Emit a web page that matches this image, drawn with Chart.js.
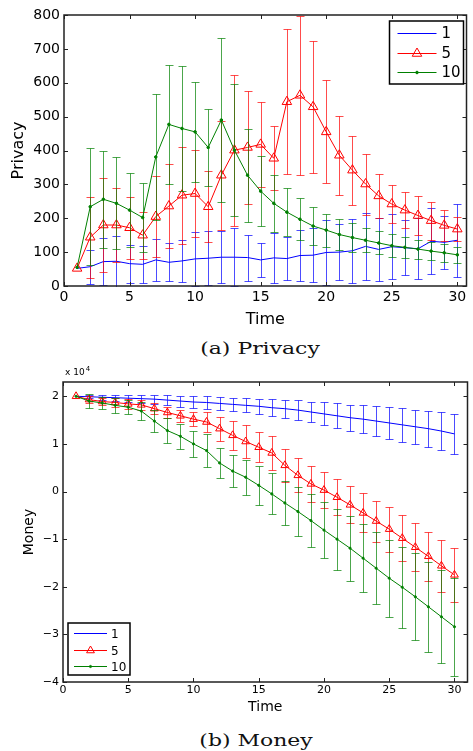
<!DOCTYPE html>
<html>
<head>
<meta charset="utf-8">
<script src="https://cdn.jsdelivr.net/npm/chart.js@4.4.1/dist/chart.umd.min.js"></script>
<style>
  body { margin: 0; background: #fff; width: 473px; height: 751px; position: relative; overflow: hidden; }
  #privacy { position: absolute; left: 0; top: 0; }
  #money { position: absolute; left: 0; top: 360px; }
  .caption { position: absolute; font-family: "DejaVu Serif"; font-size: 17px; color: #111;
             white-space: nowrap; transform: translate(-50%, -50%) scaleX(1.29); }
</style>
</head>
<body>
<canvas id="privacy" width="473" height="335"></canvas>
<div class="caption" style="left:260px; top:348px;">(a) Privacy</div>
<canvas id="money" width="473" height="360"></canvas>
<div class="caption" style="left:256px; top:740px;">(b) Money</div>

<script>
var times = [1, 2, 3, 4, 5, 6, 7, 8, 9, 10, 11, 12, 13, 14, 15, 16, 17, 18, 19, 20, 21, 22, 23, 24, 25, 26, 27, 28, 29, 30];
var seriesNames = ['1', '5', '10'];
var timeTicks = [0, 5, 10, 15, 20, 25, 30];
var privacyTicks = [0, 100, 200, 300, 400, 500, 600, 700, 800];
var moneyTicks = [-40000, -30000, -20000, -10000, 0, 10000, 20000];

// (a) privacy, mean and half error
var privacy1 = [52, 57, 72, 73, 66, 64, 77, 70, 74, 80, 82, 85, 85, 84, 77, 83, 81, 90, 91, 99, 100, 104, 117, 108, 116, 113, 110, 132, 129, 135];
var privacy1Err = [0, 50, 70, 75, 56, 55, 63, 56, 63, 80, 80, 76, 85, 68, 50, 73, 63, 74, 80, 95, 82, 95, 98, 93, 96, 82, 90, 97, 78, 108];
var privacy5 = [52, 144, 180, 180, 172, 150, 205, 236, 268, 273, 234, 327, 401, 409, 418, 377, 544, 563, 529, 455, 386, 342, 301, 266, 242, 224, 208, 193, 179, 168];
var privacy5Err = [0, 119, 139, 108, 92, 69, 119, 123, 143, 129, 105, 161, 223, 168, 125, 94, 214, 234, 194, 152, 117, 102, 90, 66, 57, 53, 57, 56, 45, 36];
var privacy10 = [55, 234, 256, 244, 224, 202, 381, 477, 465, 455, 409, 490, 401, 327, 280, 244, 218, 197, 177, 165, 152, 143, 135, 127, 119, 114, 109, 103, 98, 92];
var privacy10Err = [0, 172, 144, 136, 110, 101, 186, 176, 184, 148, 114, 242, 195, 137, 103, 85, 70, 62, 57, 49, 45, 42, 36, 34, 34, 30, 28, 26, 27, 24];

// (b) money, mean and half error
var money1 = [20000, 19900, 19800, 19700, 19600, 19500, 19400, 19200, 19000, 18800, 18700, 18500, 18300, 18100, 17900, 17600, 17400, 17100, 16700, 16300, 15900, 15500, 15200, 14800, 14400, 14000, 13600, 13200, 12700, 12100];
var money1Err = [0, 350, 500, 600, 750, 850, 950, 1050, 1150, 1200, 1300, 1350, 1400, 1500, 1600, 1750, 1900, 2050, 2200, 2400, 2600, 2700, 2900, 3100, 3300, 3500, 3600, 3800, 4000, 4200];
var money5 = [20000, 19300, 18900, 18700, 18400, 18200, 17400, 16600, 15900, 15200, 14600, 13200, 11800, 10500, 9300, 8100, 5500, 3400, 1600, 300, -1200, -2800, -4500, -6200, -7900, -9800, -11700, -13600, -15600, -17500];
var money5Err = [0, 700, 800, 900, 1000, 1000, 1100, 1200, 1300, 1400, 2000, 2500, 3000, 3400, 3100, 3500, 3400, 3600, 3700, 3750, 3800, 3900, 4100, 4300, 4700, 4800, 5000, 5200, 5500, 5600];
var money10 = [20000, 19000, 18600, 18100, 17700, 16900, 14800, 12800, 11600, 10000, 8600, 6000, 4300, 3000, 1300, -500, -2400, -4200, -6100, -8100, -10000, -11900, -14000, -16100, -18200, -20100, -22100, -24200, -26300, -28400];
var money10Err = [0, 1400, 1300, 1600, 1500, 1800, 2400, 2600, 2600, 2800, 3500, 3200, 3400, 3700, 4100, 4300, 4700, 5200, 5600, 5900, 6400, 6800, 7200, 7600, 8100, 8500, 9100, 9500, 9800, 10300];

Chart.defaults.font.family = 'DejaVu Sans';
Chart.defaults.color = '#000';

function series(label, mean, err, color, barColor, style, radius, order) {
    return {
        label: label,
        data: times.map(function (t, i) { return {x: t, y: mean[i]}; }),
        errors: err,
        barColor: barColor,
        borderColor: color,
        borderWidth: 1,
        pointStyle: style,
        pointRadius: radius,
        pointBorderColor: color,
        pointBackgroundColor: style == 'circle' ? color : 'rgba(0,0,0,0)',
        pointBorderWidth: 1,
        tension: 0,
        order: order
    };
}

function fixedTicks(values) {
    return function (s) { s.ticks = values.map(function (v) { return {value: v}; }); };
}

// error bars, drawn under each line
var errorBars = {
    id: 'errorBars',
    beforeDatasetDraw: function (chart, args, opts) {
        var ds = chart.data.datasets[args.index];
        var y = chart.scales.y, a = chart.chartArea, ctx = chart.ctx;
        ctx.save();
        ctx.beginPath();
        ctx.rect(a.left, a.top - 1, a.right - a.left, a.bottom - a.top + 2);
        ctx.clip();
        ctx.strokeStyle = ds.barColor;
        ctx.lineWidth = 1;
        args.meta.data.forEach(function (pt, i) {
            var e = ds.errors[i];
            if (!e) return;
            var m = ds.data[i].y;
            var y1 = Math.round(y.getPixelForValue(m + e)) + 0.5;
            var y2 = Math.round(y.getPixelForValue(m - e)) + 0.5;
            var x = Math.round(pt.x) + 0.5;
            ctx.beginPath();
            ctx.moveTo(x, y1); ctx.lineTo(x, y2);
            ctx.moveTo(x - opts.cap, y1); ctx.lineTo(x + opts.cap, y1);
            ctx.moveTo(x - opts.cap, y2); ctx.lineTo(x + opts.cap, y2);
            ctx.stroke();
        });
        ctx.restore();
    }
};

// matlab style box, inner ticks, legend box
var matBox = {
    id: 'matBox',
    afterDraw: function (chart, args, o) {
        var ctx = chart.ctx, a = chart.chartArea;
        var xs = chart.scales.x, ys = chart.scales.y;
        ctx.save();
        ctx.strokeStyle = '#222';
        ctx.lineWidth = 1;
        ctx.beginPath();
        xs.ticks.forEach(function (t) {
            var px = Math.round(xs.getPixelForValue(t.value)) + 0.5;
            ctx.moveTo(px, a.bottom); ctx.lineTo(px, a.bottom - 4);
            ctx.moveTo(px, a.top); ctx.lineTo(px, a.top + 4);
        });
        ys.ticks.forEach(function (t) {
            var py = Math.round(ys.getPixelForValue(t.value)) + 0.5;
            ctx.moveTo(a.left, py); ctx.lineTo(a.left + 4, py);
            ctx.moveTo(a.right, py); ctx.lineTo(a.right - 4, py);
        });
        ctx.stroke();
        ctx.lineWidth = 1.5;
        ctx.strokeRect(a.left, a.top, a.right - a.left, a.bottom - a.top);

        if (o.exponent) {
            ctx.fillStyle = '#000';
            ctx.textAlign = 'left';
            ctx.textBaseline = 'alphabetic';
            ctx.font = '9px "DejaVu Sans"';
            ctx.fillText('x 10', a.left + 2, a.top - 7);
            var w = ctx.measureText('x 10').width;
            ctx.font = '7px "DejaVu Sans"';
            ctx.fillText('4', a.left + 3 + w, a.top - 11);
        }

        var L = o.legend;
        var bx = L.right ? a.right - L.dx - L.w : a.left + L.dx;
        var by = L.bottom ? a.bottom - L.dy - L.h : a.top + L.dy;
        ctx.fillStyle = '#fff';
        ctx.fillRect(bx, by, L.w, L.h);
        ctx.strokeStyle = '#000';
        ctx.lineWidth = 1.5;
        ctx.strokeRect(bx, by, L.w, L.h);
        chart.data.datasets.forEach(function (ds, i) {
            var ry = Math.round(by + L.first + i * L.step) + 0.5;
            ctx.strokeStyle = ds.borderColor;
            ctx.lineWidth = 1;
            ctx.beginPath();
            ctx.moveTo(bx + L.lineFrom, ry); ctx.lineTo(bx + L.lineTo, ry);
            ctx.stroke();
            if (ds.pointRadius > 0) {
                ctx.fillStyle = ds.pointBackgroundColor;
                Chart.helpers.drawPoint(ctx, {pointStyle: ds.pointStyle, radius: ds.pointRadius, borderWidth: 1, rotation: 0},
                    bx + (L.lineFrom + L.lineTo) / 2, ry);
            }
            ctx.fillStyle = '#000';
            ctx.font = L.font;
            ctx.textAlign = 'left';
            ctx.textBaseline = 'middle';
            ctx.fillText(ds.label, bx + L.textX, ry + 1);
        });
        ctx.restore();
    }
};

function axisCommon() {
    return {
        type: 'linear',
        grid: {display: false, drawTicks: false},
        border: {display: false}
    };
}

// (a) Privacy
var px = axisCommon();
px.min = 0; px.max = 30.7;
px.ticks = {padding: 3, maxRotation: 0, font: {size: 14}};
px.afterBuildTicks = fixedTicks(timeTicks);
px.title = {display: true, text: 'Time', font: {size: 16}, padding: {top: 0, bottom: 6}};
px.afterFit = function (s) { s.height = 49; };
var py = axisCommon();
py.min = 0; py.max = 800;
py.ticks = {padding: 4, font: {size: 14}};
py.afterBuildTicks = fixedTicks(privacyTicks);
py.title = {display: true, text: 'Privacy', font: {size: 16}, padding: {top: 9, bottom: 0}};
py.afterFit = function (s) { s.width = 64; };

new Chart(document.getElementById('privacy'), {
    type: 'line',
    data: {
        datasets: [
            series(seriesNames[0], privacy1, privacy1Err, '#0000ff', 'rgba(0,0,255,0.7)', 'circle', 0, 3),
            series(seriesNames[1], privacy5, privacy5Err, '#ff0000', 'rgba(255,0,0,0.7)', 'triangle', 5.5, 2),
            series(seriesNames[2], privacy10, privacy10Err, '#008000', 'rgba(0,128,0,0.7)', 'circle', 1.3, 1)
        ]
    },
    options: {
        responsive: false,
        animation: false,
        events: [],
        layout: {padding: {top: 15, right: 2, left: 0, bottom: 0}},
        scales: {x: px, y: py},
        plugins: {
            legend: {display: false},
            tooltip: {enabled: false},
            errorBars: {cap: 4},
            matBox: {
                exponent: false,
                legend: {right: true, bottom: false, dx: 3, dy: 6, w: 74, h: 63,
                         first: 12, step: 19.5, lineFrom: 8, lineTo: 47, textX: 52, font: '15px "DejaVu Sans"'}
            }
        }
    },
    plugins: [errorBars, matBox]
});

// (b) Money
var mx = axisCommon();
mx.min = 0; mx.max = 31;
mx.ticks = {padding: 2, maxRotation: 0, font: {size: 11}};
mx.afterBuildTicks = fixedTicks(timeTicks);
mx.title = {display: true, text: 'Time', font: {size: 14}, padding: {top: 0, bottom: 4}};
mx.afterFit = function (s) { s.height = 38; };
var my = axisCommon();
my.min = -40000; my.max = 23000;
my.ticks = {padding: 4, font: {size: 11},
            callback: function (v) { return String(v / 10000).replace('-', '\u2212'); }};
my.afterBuildTicks = fixedTicks(moneyTicks);
my.title = {display: true, text: 'Money', font: {size: 14}, padding: {top: 21, bottom: 0}};
my.afterFit = function (s) { s.width = 63; };

new Chart(document.getElementById('money'), {
    type: 'line',
    data: {
        datasets: [
            series(seriesNames[0], money1, money1Err, '#0000ff', 'rgba(0,0,255,0.7)', 'circle', 0, 3),
            series(seriesNames[1], money5, money5Err, '#ff0000', 'rgba(255,0,0,0.7)', 'triangle', 4.5, 2),
            series(seriesNames[2], money10, money10Err, '#008000', 'rgba(0,128,0,0.7)', 'circle', 1.1, 1)
        ]
    },
    options: {
        responsive: false,
        animation: false,
        events: [],
        layout: {padding: {top: 22, right: 1, left: 0, bottom: 0}},
        scales: {x: mx, y: my},
        plugins: {
            legend: {display: false},
            tooltip: {enabled: false},
            errorBars: {cap: 4},
            matBox: {
                exponent: true,
                legend: {right: false, bottom: true, dx: 5, dy: 7, w: 62, h: 52,
                         first: 10, step: 16.5, lineFrom: 6, lineTo: 39, textX: 43, font: '12px "DejaVu Sans"'}
            }
        }
    },
    plugins: [errorBars, matBox]
});
</script>
</body>
</html>
